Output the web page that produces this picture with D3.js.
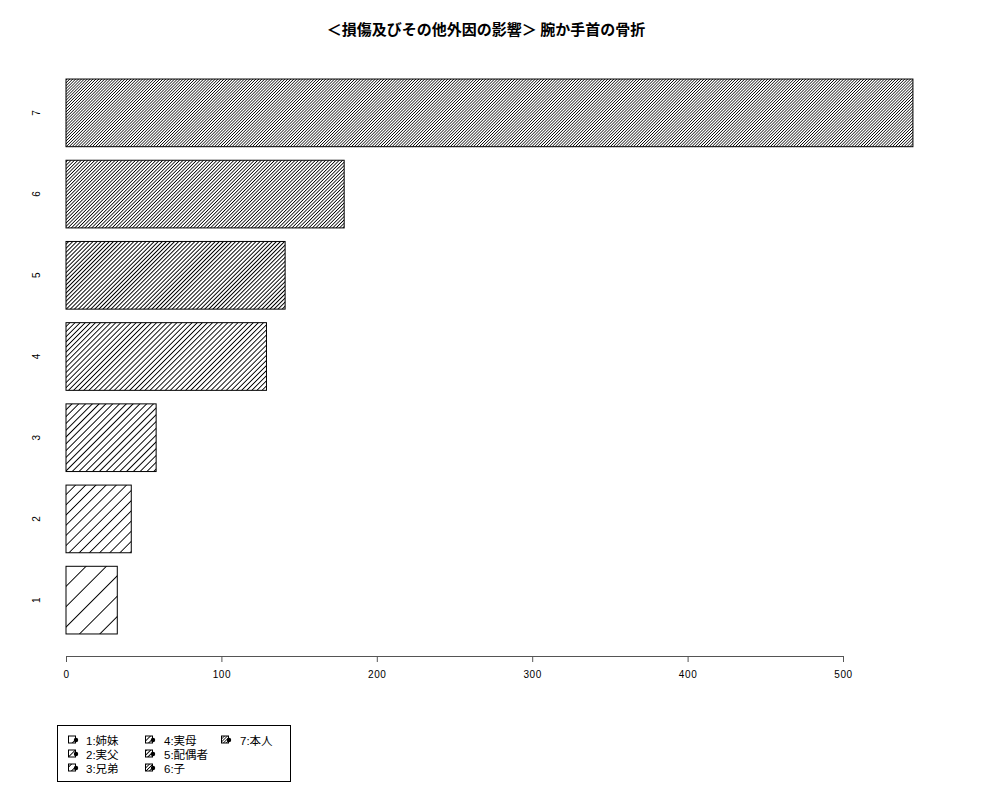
<!DOCTYPE html>
<html><head><meta charset="utf-8">
<script src="https://cdn.jsdelivr.net/npm/d3@7"></script>
<style>body{margin:0;background:#fff}</style>
</head><body>
<script>
const categories = ["1","2","3","4","5","6","7"];
const values = [33, 42, 58, 129, 141, 179, 545];
const densities = [5, 10, 15, 20, 25, 30, 35];
const legendLabels = ["1:姉妹","2:実父","3:兄弟","4:実母","5:配偶者","6:子","7:本人"];
const xTicks = [0, 100, 200, 300, 400, 500];
const title = "＜損傷及びその他外因の影響＞ 腕か手首の骨折";

const W = 1000, H = 800;
const svg = d3.select("body").append("svg").attr("width", W).attr("height", H)
  .style("font-family", "'Liberation Sans', Arial, sans-serif");

const x = d3.scaleLinear().domain([0, 500]).range([66, 843]);
const y = d3.scaleBand().domain(categories.slice().reverse())
  .range([65.5, 647.5]).paddingInner(1/6).paddingOuter(1/6);

const defs = svg.append("defs");
densities.forEach((d, i) => {
  const sp = 72 / d;
  const p = defs.append("pattern").attr("id", "h" + i)
    .attr("patternUnits", "userSpaceOnUse")
    .attr("width", sp).attr("height", 10)
    .attr("patternTransform", "rotate(45)");
  p.append("line").attr("x1", 0).attr("y1", -1).attr("x2", 0).attr("y2", 11)
    .attr("stroke", "#000").attr("stroke-width", 1.1)
    .attr("shape-rendering", "crispEdges");
});

// title
svg.append("text").attr("x", 486).attr("y", 35).attr("text-anchor", "middle")
  .style("font-family", "'Noto Sans CJK JP', sans-serif")
  .style("font-weight", "bold").style("font-size", "15px").text(title);

// bars
const g = svg.append("g");
categories.forEach((c, i) => {
  g.append("rect").attr("x", x(0)).attr("y", y(c))
    .attr("width", x(values[i]) - x(0)).attr("height", y.bandwidth())
    .attr("fill", "url(#h" + i + ")");
  g.append("rect").attr("x", x(0)).attr("y", y(c))
    .attr("width", x(values[i]) - x(0)).attr("height", y.bandwidth())
    .attr("fill", "none").attr("stroke", "#000").attr("stroke-width", 1);
});

// x axis
const ax = svg.append("g").attr("transform", "translate(0,656)")
  .call(d3.axisBottom(x).tickValues(xTicks).tickSize(6).tickPadding(9).tickSizeOuter(0));
ax.select(".domain").attr("stroke", "#555");
ax.selectAll(".tick line").attr("stroke", "#555");
ax.selectAll(".tick text").style("font-size", "10px").style("letter-spacing", "0.6px")
  .style("font-family", "'Liberation Sans', Arial, sans-serif").attr("fill", "#000");

// y labels
categories.forEach(c => {
  const cy = y(c) + y.bandwidth() / 2;
  svg.append("text").attr("transform", `translate(40,${cy}) rotate(-90)`)
    .attr("text-anchor", "middle").style("font-size", "10px").text(c);
});

// legend
const lg = svg.append("g");
lg.append("rect").attr("x", 57.5).attr("y", 725.5).attr("width", 233).attr("height", 56)
  .attr("fill", "none").attr("stroke", "#000");
const colX = [68, 145, 221];
const textX = [86, 164, 240];
const rowY = [740.5, 754.5, 768.5];
legendLabels.forEach((l, i) => {
  const col = Math.floor(i / 3), row = i % 3;
  const kx = colX[col], ky = rowY[row];
  lg.append("rect").attr("x", kx + 0.5).attr("y", ky - 4.5).attr("width", 7).attr("height", 7)
    .attr("fill", "url(#h" + i + ")").attr("stroke", "#000").attr("stroke-width", 1);
  lg.append("circle").attr("cx", kx + 8).attr("cy", ky - 0.5).attr("r", 2.2).attr("fill", "#000");
  lg.append("text").attr("x", textX[col]).attr("y", ky + 4)
    .style("font-family", "'Liberation Sans', 'Noto Sans CJK JP', sans-serif")
    .style("font-size", "11.5px").text(l);
});
</script>
</body></html>
